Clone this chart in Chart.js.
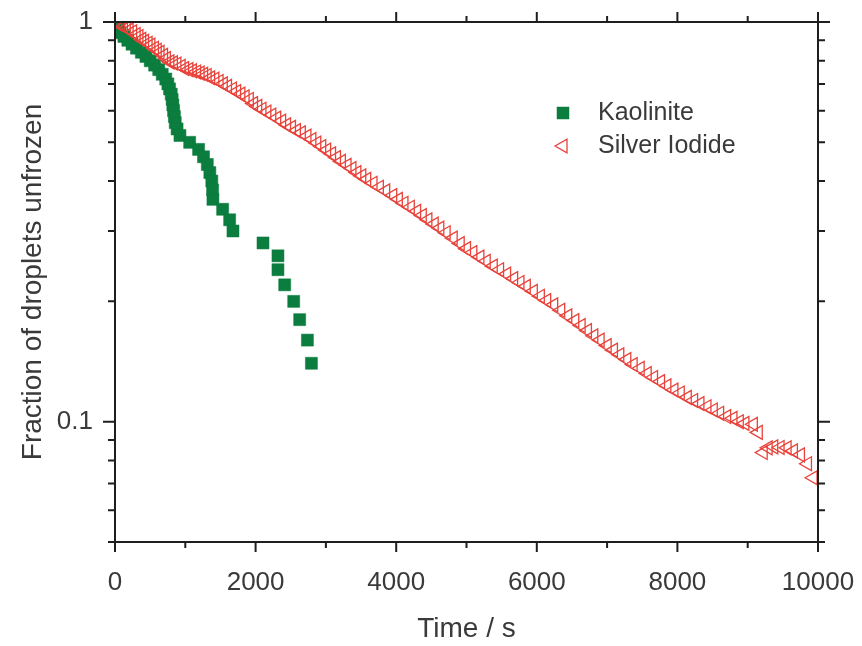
<!DOCTYPE html>
<html>
<head>
<meta charset="utf-8">
<script src="https://cdn.jsdelivr.net/npm/chart.js@4.4.1/dist/chart.umd.min.js"></script>
<style>
  html, body { margin: 0; padding: 0; background: #fff; }
  #wrap { position: relative; width: 862px; height: 646px; }
</style>
</head>
<body>
<div id="wrap"><canvas id="chart" width="862" height="646"></canvas></div>
<script>
// Kaolinite (filled squares)
const kaoliniteTime = [30, 50, 74, 127, 182, 242, 306, 375, 440, 501, 564, 622, 672, 722, 752, 776, 800, 813, 823, 833,
  845, 857, 883, 924, 1062, 1189, 1259, 1313, 1349, 1377, 1388, 1393, 1531, 1631, 1678, 2105, 2318, 2318, 2414, 2542,
  2627, 2737, 2794];
const kaoliniteFrac = [0.98, 0.96, 0.94, 0.92, 0.90, 0.88, 0.86, 0.84, 0.82, 0.80, 0.78, 0.76, 0.74, 0.72, 0.70, 0.68, 0.66, 0.64, 0.62, 0.60,
  0.58, 0.56, 0.54, 0.52, 0.50, 0.48, 0.46, 0.44, 0.42, 0.40, 0.38, 0.36, 0.34, 0.32, 0.30, 0.28, 0.26, 0.24, 0.22, 0.20,
  0.18, 0.16, 0.14];

// Silver iodide (open triangles)
const agiTime = [0, 40, 80, 120, 160, 200, 250, 300, 340, 380, 420, 470, 510, 560, 600, 640, 690, 730, 780, 830,
  880, 940, 990, 1050, 1100, 1160, 1210, 1260, 1310, 1360, 1420, 1480, 1540, 1600, 1670, 1730, 1790, 1850, 1910, 1970,
  2030, 2090, 2160, 2230, 2300, 2370, 2440, 2510, 2580, 2650, 2730, 2800, 2870, 2940, 3010, 3080, 3150, 3220, 3300, 3370,
  3440, 3510, 3580, 3670, 3760, 3850, 3950, 4030, 4110, 4200, 4290, 4370, 4450, 4540, 4620, 4710, 4810, 4910, 5000, 5090,
  5190, 5280, 5380, 5470, 5570, 5670, 5760, 5850, 5950, 6050, 6140, 6240, 6340, 6440, 6540, 6630, 6720, 6810, 6900, 7000,
  7090, 7180, 7280, 7370, 7470, 7570, 7660, 7760, 7850, 7950, 8040, 8140, 8230, 8320, 8420, 8510, 8600, 8700, 8790, 8880,
  8960, 9080, 9150, 9220, 9290, 9370, 9460, 9560, 9650, 9750, 9850, 9930];
const agiFrac = [1.0, 0.99, 0.985, 0.975, 0.965, 0.955, 0.945, 0.93, 0.92, 0.905, 0.895, 0.885, 0.875, 0.86, 0.85, 0.84, 0.825, 0.81, 0.795, 0.79,
  0.785, 0.775, 0.765, 0.76, 0.755, 0.75, 0.745, 0.74, 0.735, 0.725, 0.72, 0.71, 0.70, 0.69, 0.68, 0.67, 0.66, 0.65, 0.64, 0.625,
  0.615, 0.605, 0.595, 0.585, 0.575, 0.565, 0.553, 0.545, 0.535, 0.528, 0.518, 0.508, 0.498, 0.488, 0.478, 0.468, 0.458, 0.448, 0.438, 0.43,
  0.42, 0.412, 0.404, 0.395, 0.386, 0.378, 0.368, 0.36, 0.352, 0.344, 0.336, 0.328, 0.32, 0.312, 0.305, 0.297, 0.288, 0.279, 0.271, 0.265,
  0.258, 0.252, 0.245, 0.24, 0.234, 0.228, 0.223, 0.218, 0.212, 0.206, 0.201, 0.196, 0.19, 0.184, 0.179, 0.174, 0.169, 0.164, 0.16, 0.155,
  0.151, 0.147, 0.143, 0.139, 0.136, 0.132, 0.129, 0.126, 0.123, 0.12, 0.118, 0.115, 0.113, 0.111, 0.109, 0.107, 0.105, 0.103, 0.102, 0.1,
  0.099, 0.0985, 0.094, 0.0837, 0.086, 0.0865, 0.0862, 0.086, 0.0845, 0.0826, 0.0785, 0.0724];

// axes
const xTicks = [0, 1000, 2000, 3000, 4000, 5000, 6000, 7000, 8000, 9000, 10000];
const xLabels = [0, 2000, 4000, 6000, 8000, 10000];
const yTicks = [0.05, 0.06, 0.07, 0.08, 0.09, 0.1, 0.2, 0.3, 0.4, 0.5, 0.6, 0.7, 0.8, 0.9, 1];
const yLabels = [0.1, 1];

const seriesNames = ['Kaolinite', 'Silver Iodide'];
const GREEN = '#0b7d3e';
const RED = '#e8433b';
const TEXT = '#3a3a3a';
const AXIS = '#1e1e1e';
const FONT = "'Liberation Sans', Arial, sans-serif";

const toPoints = (xs, ys) => xs.map((x, i) => ({ x, y: ys[i] }));

// frame + tick marks on all four sides
const framePlugin = {
  id: 'frame',
  afterDraw(chart) {
    const { ctx, chartArea: a } = chart;
    const xs = chart.scales.x, ys = chart.scales.y;
    ctx.save();
    ctx.strokeStyle = AXIS;
    ctx.lineWidth = 2;
    ctx.strokeRect(a.left, a.top, a.right - a.left, a.bottom - a.top);
    ctx.beginPath();
    xTicks.forEach(v => {
      const px = xs.getPixelForValue(v);
      const len = xLabels.includes(v) ? 10 : 6;
      ctx.moveTo(px, a.bottom); ctx.lineTo(px, a.bottom + len);
      ctx.moveTo(px, a.top); ctx.lineTo(px, a.top - len);
    });
    yTicks.forEach(v => {
      const py = ys.getPixelForValue(v);
      const len = yLabels.includes(v) ? 12 : 7;
      ctx.moveTo(a.left, py); ctx.lineTo(a.left - len, py);
      ctx.moveTo(a.right, py); ctx.lineTo(a.right + len, py);
    });
    ctx.stroke();
    ctx.restore();
  }
};

// legend inside the plot
const legendPlugin = {
  id: 'innerLegend',
  afterDraw(chart) {
    const { ctx } = chart;
    const x0 = 563, y0 = 113, gap = 33;
    ctx.save();
    chart.data.datasets.forEach((ds, i) => {
      const y = y0 + i * gap;
      ctx.fillStyle = ds.pointBackgroundColor;
      ctx.strokeStyle = ds.pointBorderColor;
      ctx.lineWidth = ds.pointBorderWidth;
      Chart.helpers.drawPoint(ctx, {
        pointStyle: ds.pointStyle, rotation: ds.rotation, radius: ds.pointRadius,
        borderWidth: ds.pointBorderWidth
      }, x0, y);
      ctx.fillStyle = TEXT;
      ctx.font = '25px ' + FONT;
      ctx.textBaseline = 'middle';
      ctx.textAlign = 'left';
      ctx.fillText(ds.label, 598, y);
    });
    ctx.restore();
  }
};

new Chart(document.getElementById('chart'), {
  type: 'scatter',
  data: {
    datasets: [
      {
        label: seriesNames[0],
        data: toPoints(kaoliniteTime, kaoliniteFrac),
        pointStyle: 'rect', rotation: 0, pointRadius: 8.5,
        pointBackgroundColor: GREEN, pointBorderColor: GREEN, pointBorderWidth: 0.5,
        order: 1
      },
      {
        label: seriesNames[1],
        data: toPoints(agiTime, agiFrac),
        pointStyle: 'triangle', rotation: -90, pointRadius: 8,
        pointBackgroundColor: 'rgba(0,0,0,0)', pointBorderColor: RED, pointBorderWidth: 1.3,
        order: 0
      }
    ]
  },
  options: {
    responsive: false,
    animation: false,
    layout: { padding: { top: 22, right: 44, left: 0, bottom: 0 } },
    plugins: { legend: { display: false }, tooltip: { enabled: false } },
    scales: {
      x: {
        type: 'linear', min: 0, max: 10000,
        grid: { display: false, drawTicks: false },
        border: { display: false },
        afterBuildTicks: s => { s.ticks = xTicks.map(v => ({ value: v })); },
        afterFit: s => { s.height = 104; s.paddingLeft = 0; s.paddingRight = 0; },
        ticks: {
          autoSkip: false, maxRotation: 0, padding: 25, color: TEXT,
          font: { family: FONT, size: 26 },
          callback: v => (xLabels.includes(v) ? String(v) : '')
        },
        title: { display: true, text: 'Time / s', color: TEXT, font: { family: FONT, size: 28 }, padding: { top: 0, bottom: 0 } }
      },
      y: {
        type: 'logarithmic', min: 0.05, max: 1,
        grid: { display: false, drawTicks: false },
        border: { display: false },
        afterBuildTicks: s => { s.ticks = yTicks.map(v => ({ value: v })); },
        afterFit: s => { s.width = 115; s.paddingTop = 0; s.paddingBottom = 0; },
        ticks: {
          autoSkip: false, padding: 22, color: TEXT,
          font: { family: FONT, size: 26 },
          callback: v => (yLabels.includes(v) ? String(v) : '')
        },
        title: { display: true, text: 'Fraction of droplets unfrozen', color: TEXT, font: { family: FONT, size: 28 }, padding: { top: 16, bottom: 0 } }
      }
    }
  },
  plugins: [framePlugin, legendPlugin]
});
</script>
</body>
</html>
